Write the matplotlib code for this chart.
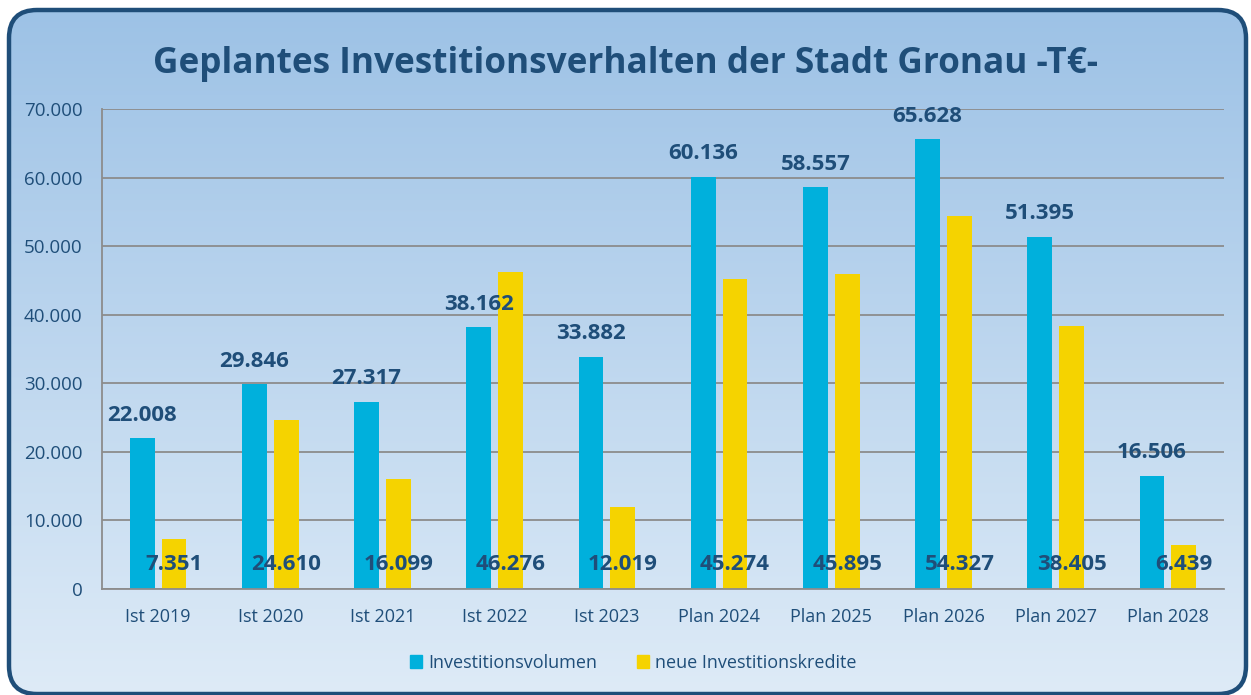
import numpy as np
import matplotlib
matplotlib.use("Agg")
import matplotlib.pyplot as plt
from matplotlib.patches import FancyBboxPatch, Patch
from matplotlib.ticker import FuncFormatter

# DATA
categories = ["Ist 2019", "Ist 2020", "Ist 2021", "Ist 2022", "Ist 2023",
              "Plan 2024", "Plan 2025", "Plan 2026", "Plan 2027", "Plan 2028"]
volumen = [22008, 29846, 27317, 38162, 33882, 60136, 58557, 65628, 51395, 16506]
kredite = [7351, 24610, 16099, 46276, 12019, 45274, 45895, 54327, 38405, 6439]
series_names = ["Investitionsvolumen", "neue Investitionskredite"]
title = "Geplantes Investitionsverhalten der Stadt Gronau -T€-"

# STYLE
dark = "#1F4E79"
blue = "#00B0DC"
yellow = "#F5D300"
grid_col = "#8C8C8C"
plt.rcParams['font.family'] = ['Open Sans', 'DejaVu Sans']

def de_fmt(v):
    return "{:,.0f}".format(v).replace(",", ".")

fig = plt.figure(figsize=(12.51, 6.95), dpi=100)
fig.patch.set_facecolor("white")

# background box with gradient
bg = fig.add_axes([0, 0, 1, 1], zorder=-1)
bg.set_xlim(0, 1251)
bg.set_ylim(0, 695)
bg.axis("off")
grad = np.linspace(0, 1, 256).reshape(-1, 1)
top_c = np.array([157, 194, 230]) / 255
bot_c = np.array([222, 235, 247]) / 255
img = top_c[None, None, :] * (1 - grad[:, :, None]) + bot_c[None, None, :] * grad[:, :, None]
box = FancyBboxPatch((9, 1), 1237, 684, boxstyle="round,pad=0,rounding_size=28",
                     facecolor="none", edgecolor=dark, linewidth=3.2, zorder=3)
bg.add_patch(box)
im = bg.imshow(img, extent=[9, 1246, 1, 685], aspect="auto", origin="upper", zorder=1)
im.set_clip_path(box)

# main chart
ax = fig.add_axes([102 / 1251, 106 / 695, 1122 / 1251, 480 / 695])
ax.patch.set_alpha(0)
x = np.arange(len(categories))
w = 0.222
gap = 0.062
off = (w + gap) / 2
ax.bar(x - off, volumen, w, color=blue, zorder=2)
ax.bar(x + off, kredite, w, color=yellow, zorder=2)

ax.set_xlim(-0.5, len(categories) - 0.5)
ax.set_ylim(0, 70000)
ax.set_yticks(range(0, 70001, 10000))
ax.yaxis.set_major_formatter(FuncFormatter(lambda v, p: de_fmt(v)))
ax.set_xticks(x)
ax.set_xticklabels(categories)
ax.grid(axis="y", color=grid_col, linewidth=1.3, zorder=0)
for s in ["top", "right"]:
    ax.spines[s].set_visible(False)
ax.spines["left"].set_color(grid_col)
ax.spines["bottom"].set_color(grid_col)
ax.spines["left"].set_linewidth(1.3)
ax.spines["bottom"].set_linewidth(1.3)
ax.tick_params(length=0, colors=dark, labelsize=13)
ax.tick_params(axis="y", pad=14, labelsize=13.5)
ax.tick_params(axis="x", pad=14)

for i in range(len(categories)):
    ax.text(x[i] - off, volumen[i] + 1800, de_fmt(volumen[i]), ha="center", va="bottom",
            fontsize=16, fontweight="bold", color=dark, zorder=4)
    ax.text(x[i] + off, 3600, de_fmt(kredite[i]), ha="center", va="center",
            fontsize=16, fontweight="bold", color=dark, zorder=4)

fig.text(0.5, 631 / 695, title, ha="center", va="center", fontsize=25.3,
         fontweight="bold", color=dark)

handles = [Patch(color=blue), Patch(color=yellow)]
fig.legend(handles, series_names, loc="center", bbox_to_anchor=(633 / 1251, 32 / 695),
           ncol=2, frameon=False, fontsize=13, labelcolor=dark, handlelength=0.7,
           handleheight=0.7, handletextpad=0.3, columnspacing=2.2)

fig.savefig("out.png", dpi=100)
